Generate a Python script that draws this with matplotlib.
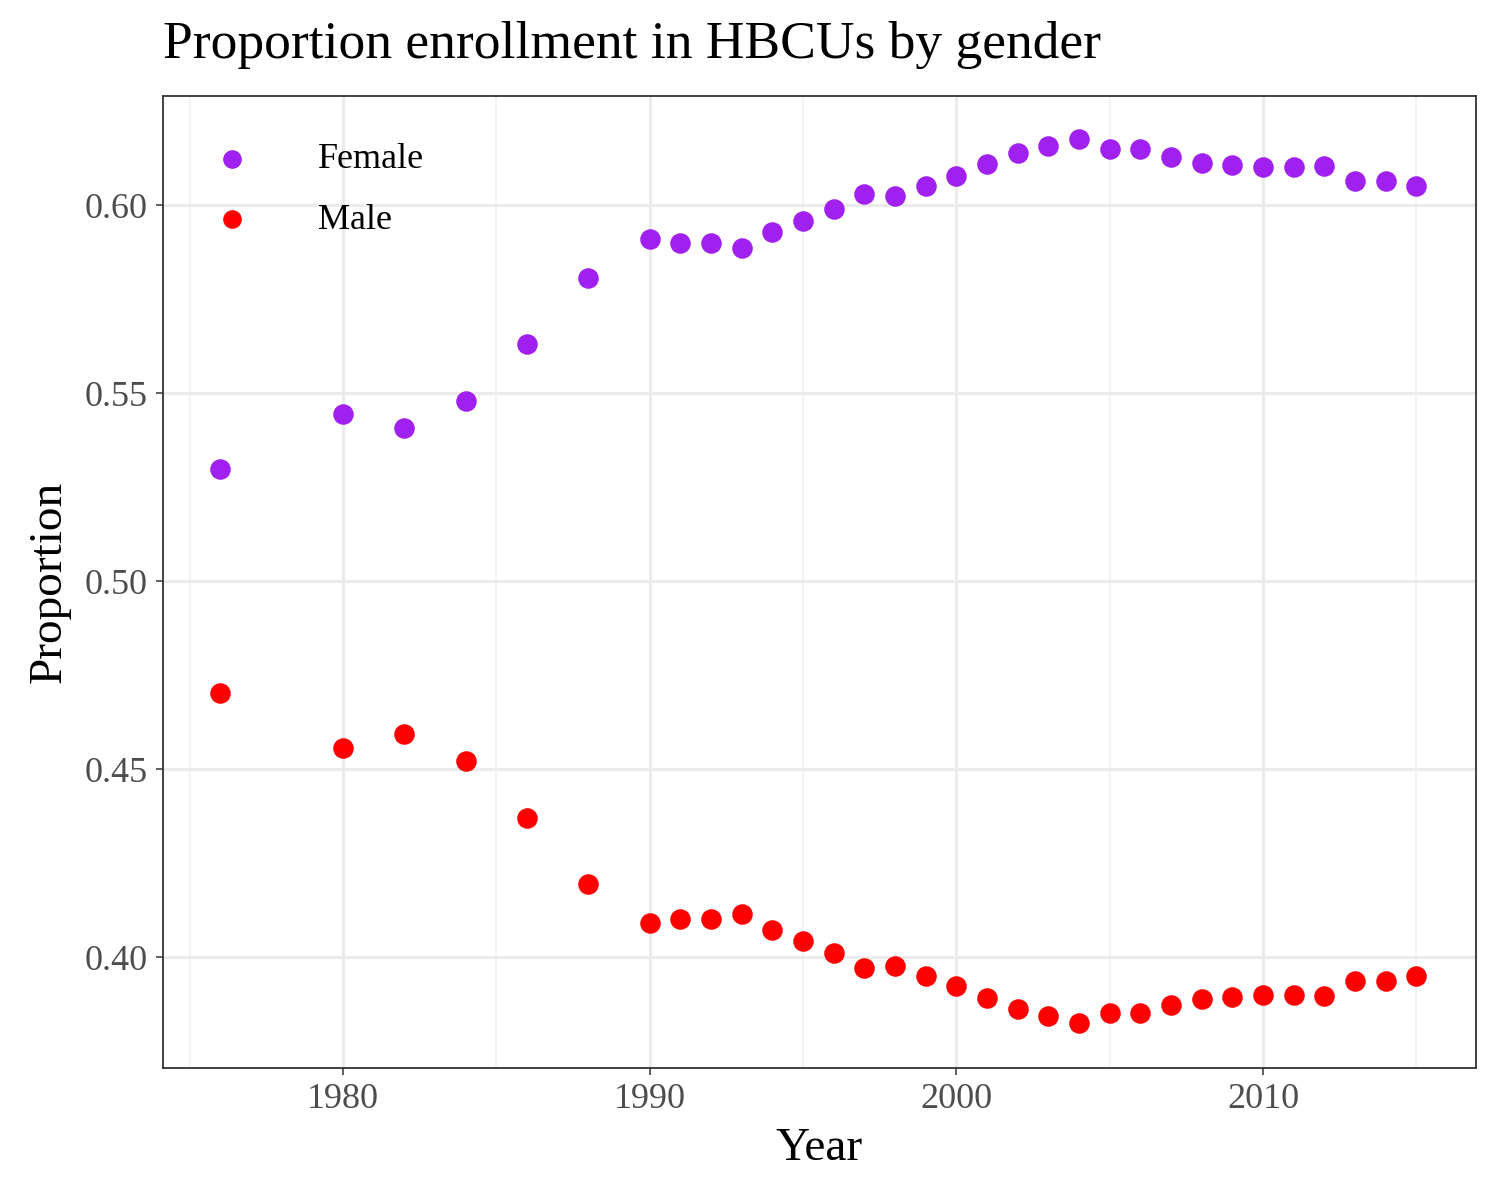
import numpy as np
import matplotlib.pyplot as plt

plt.rcParams['font.family'] = ['Liberation Serif', 'DejaVu Serif']

years = [1976, 1980, 1982, 1984, 1986, 1988] + list(range(1990, 2016))
female = [0.5298, 0.5444, 0.5407, 0.5479, 0.5630, 0.5806, 0.5910, 0.5899, 0.5899, 0.5886,
          0.5928, 0.5957, 0.5989, 0.6029, 0.6024, 0.6051, 0.6077, 0.6109, 0.6138, 0.6157,
          0.6176, 0.6149, 0.6149, 0.6128, 0.6112, 0.6106, 0.6101, 0.6101, 0.6104, 0.6064,
          0.6064, 0.6051]
male = [0.4702, 0.4556, 0.4593, 0.4521, 0.4370, 0.4194, 0.4090, 0.4101, 0.4101, 0.4114,
        0.4072, 0.4043, 0.4011, 0.3971, 0.3976, 0.3949, 0.3923, 0.3891, 0.3862, 0.3843,
        0.3824, 0.3851, 0.3851, 0.3872, 0.3888, 0.3894, 0.3899, 0.3899, 0.3896, 0.3936,
        0.3936, 0.3949]

fig = plt.figure(figsize=(15, 12), dpi=100)
ax = fig.add_axes([163/1500, 1 - 1068/1200, (1476-163)/1500, (1068-96)/1200])

ax.scatter(years, female, s=190, color='#A020F0', label='Female', zorder=3)
ax.scatter(years, male, s=190, color='#FF0000', label='Male', zorder=3)

ax.set_xlim(1974.13, 2016.94)
ax.set_ylim(0.3705, 0.629)
ax.set_xticks([1980, 1990, 2000, 2010])
ax.set_yticks([0.40, 0.45, 0.50, 0.55, 0.60])
ax.set_yticklabels(['0.40', '0.45', '0.50', '0.55', '0.60'])
ax.set_xticks([1975, 1985, 1995, 2005, 2015], minor=True)
ax.grid(True, which='major', color='#EBEBEB', lw=2.2, zorder=0)
ax.grid(True, which='minor', axis='x', color='#F0F0F0', lw=1.1, zorder=0)
ax.tick_params(which='minor', length=0)
ax.tick_params(which='major', length=5, width=1.1, color='#333333', labelsize=26, labelcolor='#4D4D4D', pad=6)
for s in ax.spines.values():
    s.set_color('#333333')
    s.set_linewidth(1.3)

ax.set_xlabel('Year', fontsize=34, labelpad=8)
ax.set_ylabel('Proportion', fontsize=34, labelpad=10)
fig.text(163/1500, 1 - 45/1200, 'Proportion enrollment in HBCUs by gender', fontsize=38.5, va='center')

leg = ax.legend(loc='upper left', bbox_to_anchor=(0.0, 0.985), frameon=False, fontsize=26,
                handletextpad=1.4, labelspacing=0.75, markerscale=0.9)

fig.savefig('out.png', dpi=100)
